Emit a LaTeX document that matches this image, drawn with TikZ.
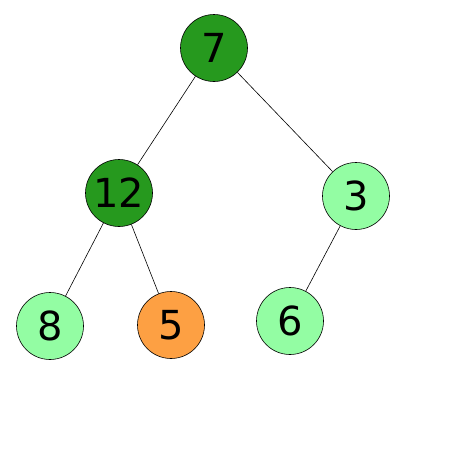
\documentclass[tikz,border=0pt]{standalone}
\usepackage{fontspec}
\setmainfont{DejaVu Sans}
\usepackage{tikz}
\definecolor{DarkGreen}{HTML}{26991E}
\definecolor{LightGreen}{HTML}{93FDA3}
\definecolor{Orange}{HTML}{FDA043}

\begin{document}
\begin{tikzpicture}[
  x=1pt,y=-1pt,
  every node/.style={font=\fontsize{40}{44}\selectfont},
  heapnode/.style={circle,draw=black,line width=0.6pt,minimum size=67pt,inner sep=0pt},
  rootnode/.style={heapnode,fill=DarkGreen},
  leafnode/.style={heapnode,fill=LightGreen},
  marknode/.style={heapnode,fill=Orange},
  edge/.style={line width=0.6pt,color=black}
]
\useasboundingbox (0,0) rectangle (450,450);
\node[rootnode] (n7) at (214,48) {7};
\node[rootnode] (n12) at (119,193) {12};
\node[leafnode] (n3) at (356,196) {3};
\node[leafnode] (n8) at (50,326) {8};
\node[marknode] (n5) at (171,325) {5};
\node[leafnode] (n6) at (290,321) {6};
\draw[edge] (n7) -- (n12);
\draw[edge] (n7) -- (n3);
\draw[edge] (n12) -- (n8);
\draw[edge] (n12) -- (n5);
\draw[edge] (n3) -- (n6);
\end{tikzpicture}
\end{document}
